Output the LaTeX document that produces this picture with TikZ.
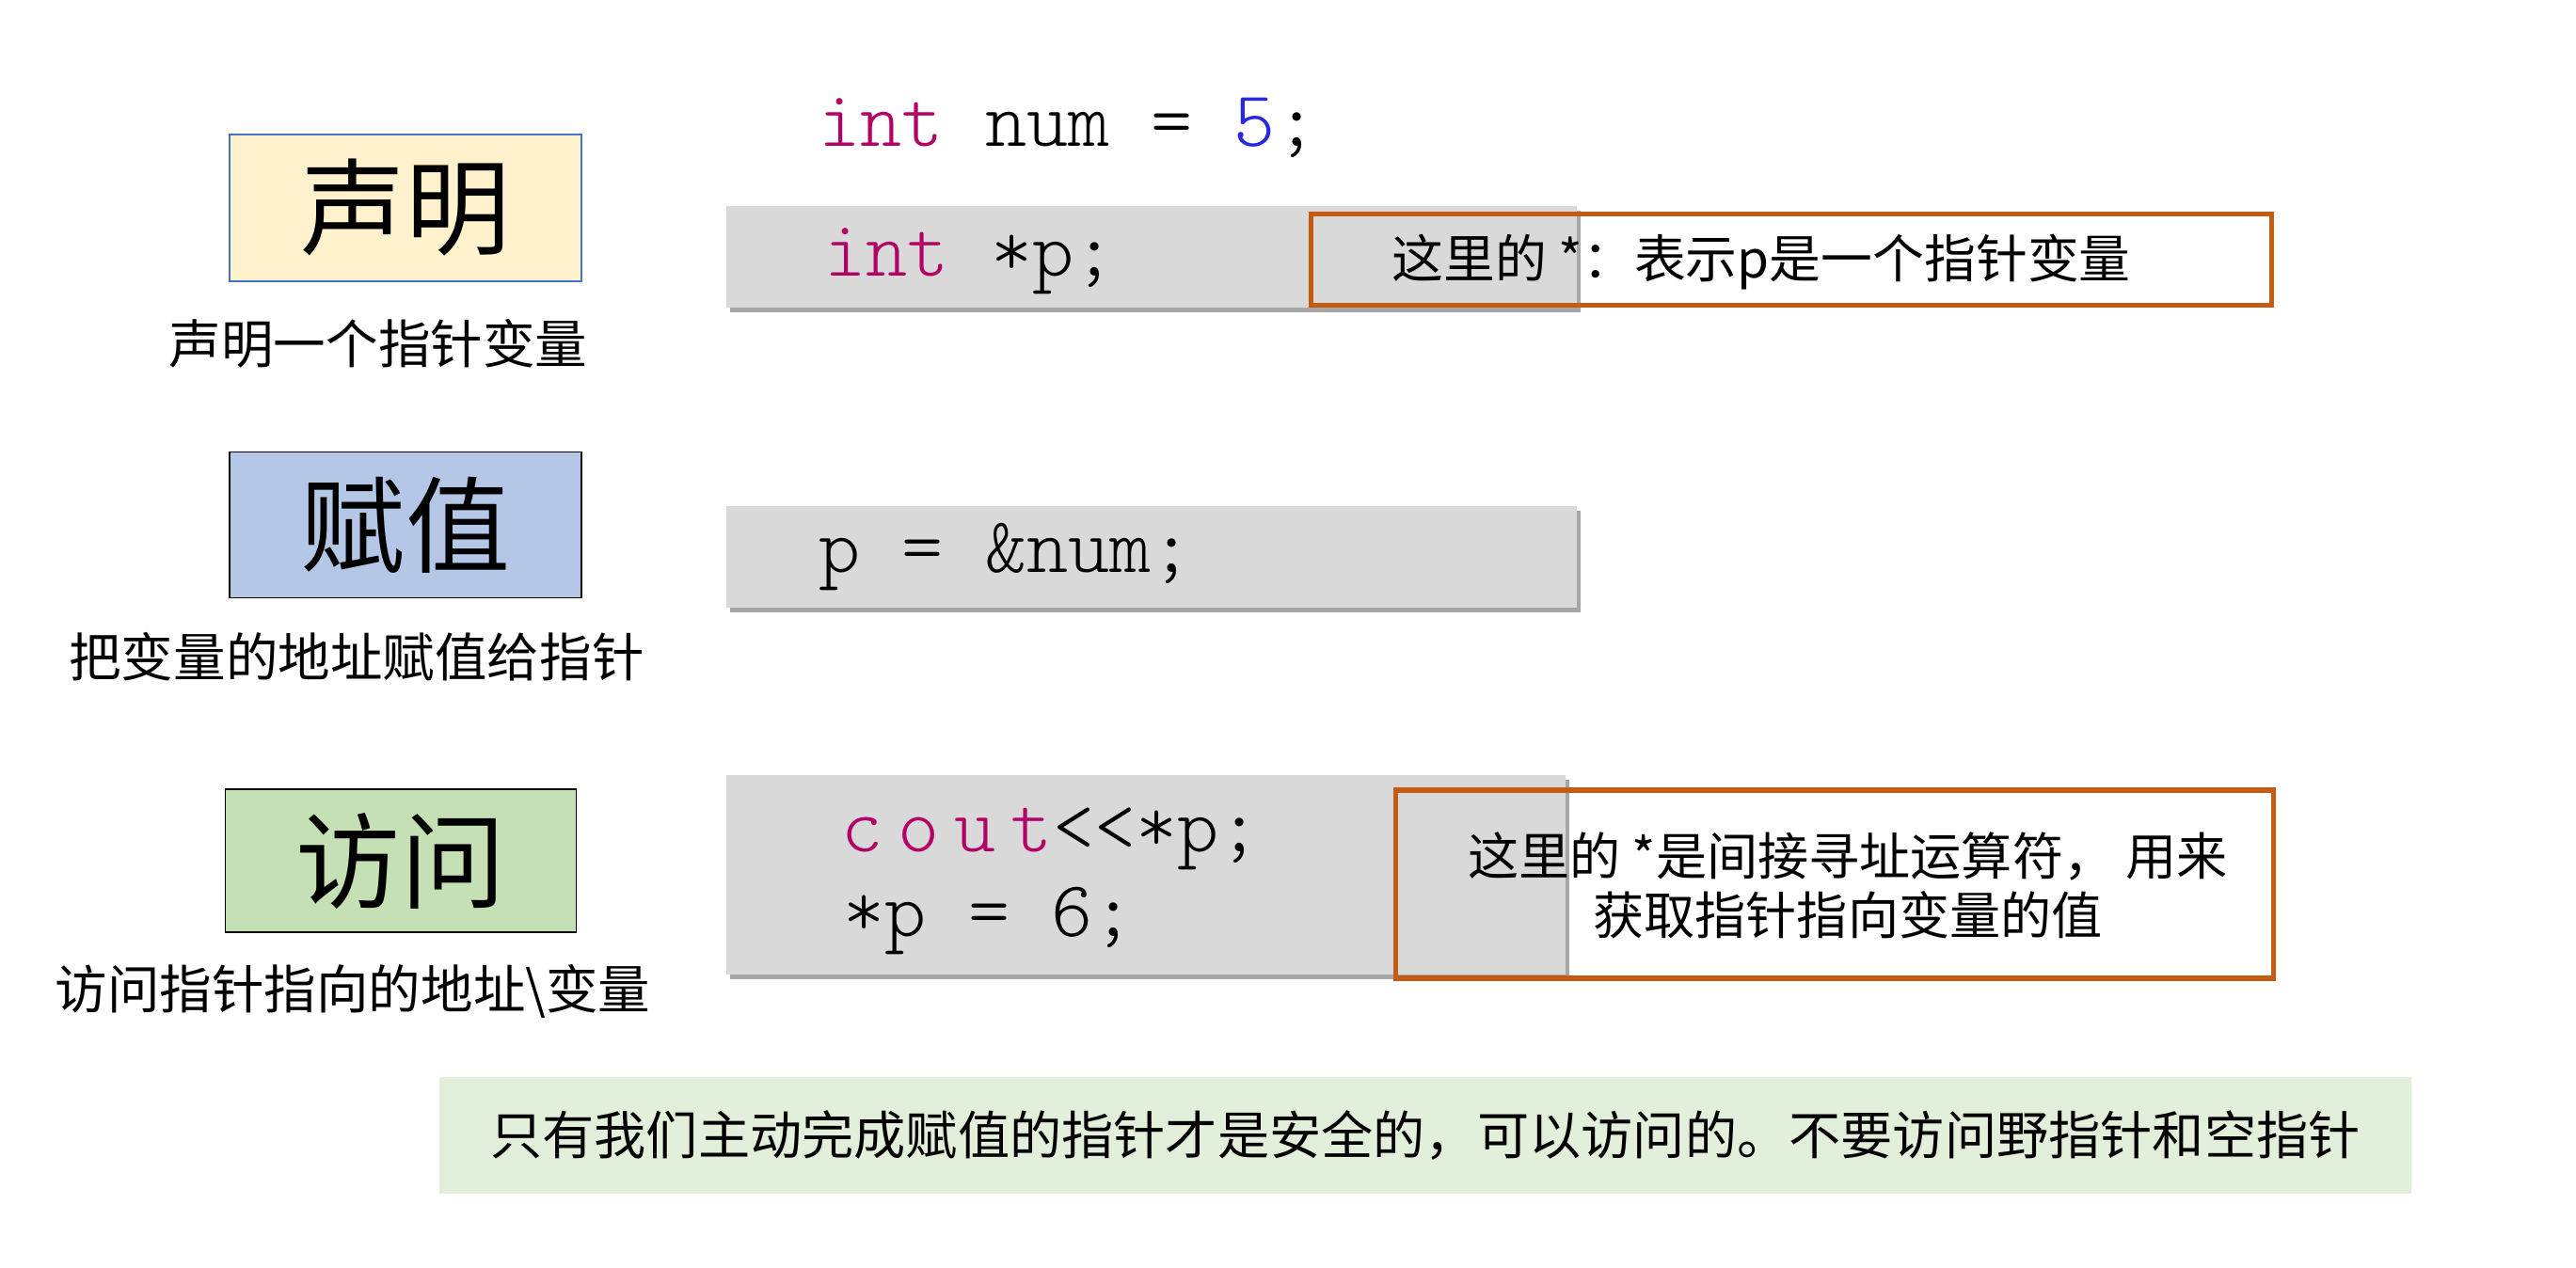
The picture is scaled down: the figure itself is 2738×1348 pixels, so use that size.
\documentclass[tikz,border=0pt]{standalone}
\usepackage{fontspec}
\setmainfont{Noto Sans CJK SC}
\setmonofont{Latin Modern Mono Light}
\usetikzlibrary{shadows}
\definecolor{keyword}{RGB}{180,0,100}
\definecolor{numlit}{RGB}{40,40,220}
\definecolor{codegray}{RGB}{217,217,217}
\definecolor{noteorange}{RGB}{197,90,17}
\definecolor{declfill}{RGB}{255,242,204}
\definecolor{declborder}{RGB}{68,114,196}
\definecolor{assignfill}{RGB}{180,199,231}
\definecolor{accessfill}{RGB}{197,224,180}
\definecolor{tipfill}{RGB}{226,239,218}
\tikzstyle{titlebox} = [
  rectangle,
  minimum width=3.74cm,
  minimum height=1.55cm,
  draw=black,
  line width=0.5pt,
  inner sep=0pt,
  font=\fontsize{31.6}{36}\selectfont
]
\tikzstyle{caption} = [
  inner sep=0pt,
  font=\fontsize{15.8}{18}\selectfont
]
\tikzstyle{codebox} = [
  rectangle,
  minimum width=9.04cm,
  minimum height=1.08cm,
  fill=codegray,
  drop shadow={shadow xshift=0.04cm, shadow yshift=-0.05cm, opacity=0.35, fill=black}
]
\tikzstyle{codeline} = [
  anchor=base west,
  inner sep=0pt,
  font=\ttfamily\fontsize{23.9}{28}\selectfont
]
\tikzstyle{notebox} = [
  rectangle,
  draw=noteorange,
  line width=1.5pt
]
\tikzstyle{notetext} = [
  inner sep=0pt,
  align=center,
  font=\fontsize{15.6}{17.9}\selectfont
]
\tikzstyle{tip} = [
  rectangle,
  minimum width=20.95cm,
  minimum height=1.24cm,
  fill=tipfill,
  font=\fontsize{15.7}{18}\selectfont
]

\begin{document}
\begin{tikzpicture}[x=0.01cm, y=-0.01cm]
    \useasboundingbox (0,0) rectangle (2738,1348);

    \node (decl) [titlebox, draw=declborder, fill=declfill, minimum height=1.56cm] at (431,221) {声明};
    \node (assign) [titlebox, fill=assignfill] at (431,558) {赋值};
    \node (access) [titlebox, fill=accessfill, minimum width=3.73cm, minimum height=1.52cm] at (426,915) {访问};

    \node (decl-caption) [caption] at (402,365) {声明一个指针变量};
    \node (assign-caption) [caption] at (379,698) {把变量的地址赋值给指针};
    \node (access-caption) [caption] at (375,1054) {访问指针指向的地址\textbackslash 变量};

    \node (code-decl) [codebox] at (1224,273) {};
    \node (code-assign) [codebox] at (1224,592) {};
    \node (code-access) [codebox, minimum width=8.92cm, minimum height=2.12cm] at (1218,930) {};

    \node (note-decl) [notebox, minimum width=10.2cm, minimum height=0.97cm] at (1904,276) {};
    \node (note-access) [notebox, minimum width=9.32cm, minimum height=2.0cm] at (1950,940) {};

    \node (line-num) [codeline] at (870,155) {\textcolor{keyword}{int} num = \textcolor{numlit}{5};};
    \node (line-ptr) [codeline] at (876,293) {\textcolor{keyword}{int} *p;};
    \node (line-addr) [codeline] at (870,608) {p = \&num;};
    \node (line-cout) [codeline] at (894,905) {{\addfontfeature{LetterSpace=19}\textcolor{keyword}{cout}}<<*p;};
    \node (line-set) [codeline] at (896,995) {*p = 6;};

    \node (note-decl-text) [notetext, anchor=west] at (1479,278) {这里的 *：表示p是一个指针变量};
    \node (note-access-text) [notetext, font=\fontsize{15.4}{17.9}\selectfont] at (1964,941) {这里的 *是间接寻址运算符， 用来\\获取指针指向变量的值};

    \node (tip) [tip] at (1515,1207) {只有我们主动完成赋值的指针才是安全的，可以访问的。不要访问野指针和空指针};
\end{tikzpicture}
\end{document}
